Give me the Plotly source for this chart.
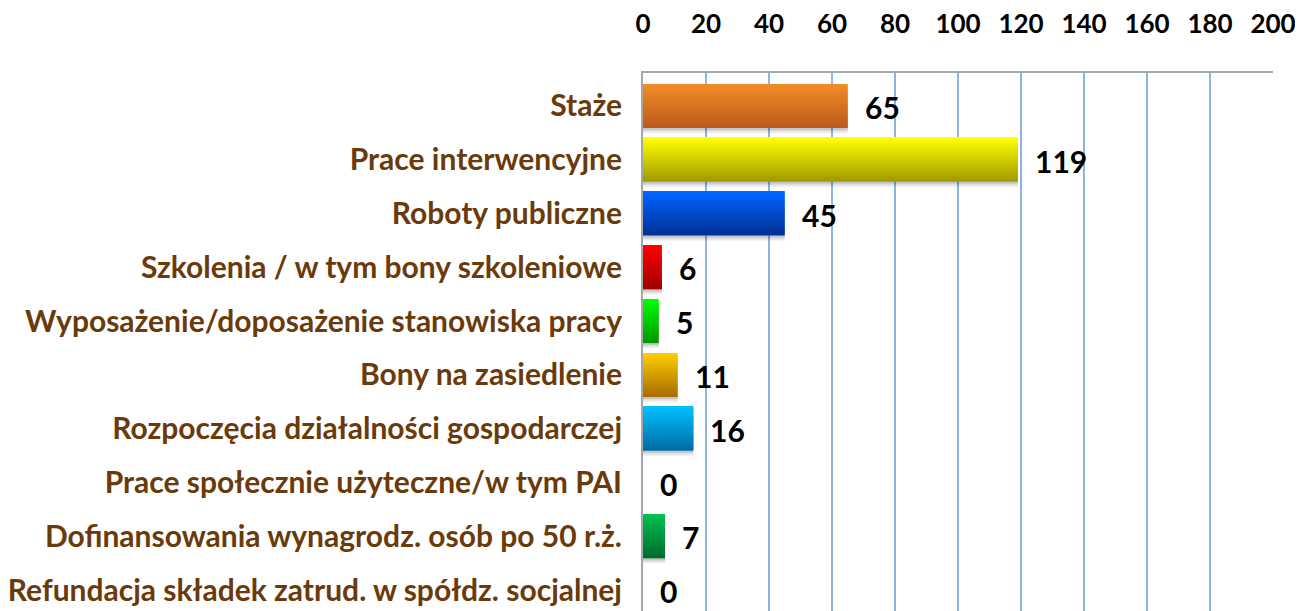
import plotly.graph_objects as go

categories = [
    "Staże",
    "Prace interwencyjne",
    "Roboty publiczne",
    "Szkolenia / w tym bony szkoleniowe",
    "Wyposażenie/doposażenie stanowiska pracy",
    "Bony na zasiedlenie",
    "Rozpoczęcia działalności gospodarczej",
    "Prace społecznie użyteczne/w tym PAI",
    "Dofinansowania wynagrodz. osób po 50 r.ż.",
    "Refundacja składek zatrud. w spółdz. socjalnej",
]
values = [65, 119, 45, 6, 5, 11, 16, 0, 7, 0]
tick_values = [0, 20, 40, 60, 80, 100, 120, 140, 160, 180, 200]

# gradient colours (top, bottom) per bar
top_colors = ["#F28C28", "#FFFF00", "#0066FF", "#FF0000", "#00FF00",
              "#FFCC00", "#00BFFF", "#00B050", "#00C050", "#00B050"]
bottom_colors = ["#BE5A1C", "#A39C00", "#00309A", "#A00000", "#009A00",
                 "#A87000", "#006EA6", "#007030", "#006E2E", "#007030"]


def hex_to_rgb(h):
    h = h.lstrip("#")
    return tuple(int(h[i:i + 2], 16) for i in (0, 2, 4))


def mix(c1, c2, t):
    a, b = hex_to_rgb(c1), hex_to_rgb(c2)
    return "rgb(%d,%d,%d)" % tuple(round(a[k] + (b[k] - a[k]) * t) for k in range(3))


fig = go.Figure()

BAR_W = 0.81

# soft drop shadow under each bar
for dy, alpha in [(0.10, 0.06), (0.07, 0.08), (0.04, 0.10)]:
    fig.add_trace(go.Bar(
        y=categories, x=values, orientation="h",
        width=BAR_W, offset=-BAR_W / 2 + dy,
        marker=dict(color="rgba(0,0,0,%.2f)" % alpha, line=dict(width=0)),
        hoverinfo="skip", showlegend=False,
    ))

N = 24
for i in range(N):
    t = i / (N - 1)
    fig.add_trace(go.Bar(
        y=categories,
        x=values,
        orientation="h",
        width=BAR_W / N + 0.003,
        offset=-BAR_W / 2 + i * BAR_W / N,
        marker=dict(color=[mix(c1, c2, t) for c1, c2 in zip(top_colors, bottom_colors)],
                    line=dict(width=0)),
        hoverinfo="skip",
        showlegend=False,
    ))

for cat, v in zip(categories, values):
    fig.add_annotation(
        x=v, y=cat, text="<b>%d</b>" % v, showarrow=False,
        xanchor="left", xshift=15, yshift=-1,
        font=dict(family="Lato", size=30, color="#000000"),
    )

# page body has an 8px margin: figure sized/margined so the plot area lands
# at x 643..1273, y 73..611 in the window
fig.update_layout(
    width=1295, height=603,
    margin=dict(l=635, r=30, t=65, b=0),
    paper_bgcolor="white", plot_bgcolor="white",
    barmode="overlay",
    xaxis=dict(
        side="top", range=[0, 200], tickvals=tick_values,
        ticktext=["<b>%d</b>" % t for t in tick_values],
        tickfont=dict(family="Lato", size=26, color="#000000"),
        showgrid=True, gridcolor="#8EB4E3", gridwidth=1.5,
        zeroline=False, showline=True, linecolor="#A6A6A6", linewidth=2,
        ticks="", ticklabelstandoff=28,
    ),
    yaxis=dict(
        range=[9.387, -0.613],
        tickfont=dict(family="Lato", size=30, color="#6B3A0A"),
        ticktext=["<b>%s</b>" % c for c in categories], tickvals=categories,
        showgrid=False, zeroline=False, showline=True, linecolor="#A6A6A6", linewidth=2,
        ticks="", ticklabelstandoff=13,
    ),
)

fig.write_html("out.html")
